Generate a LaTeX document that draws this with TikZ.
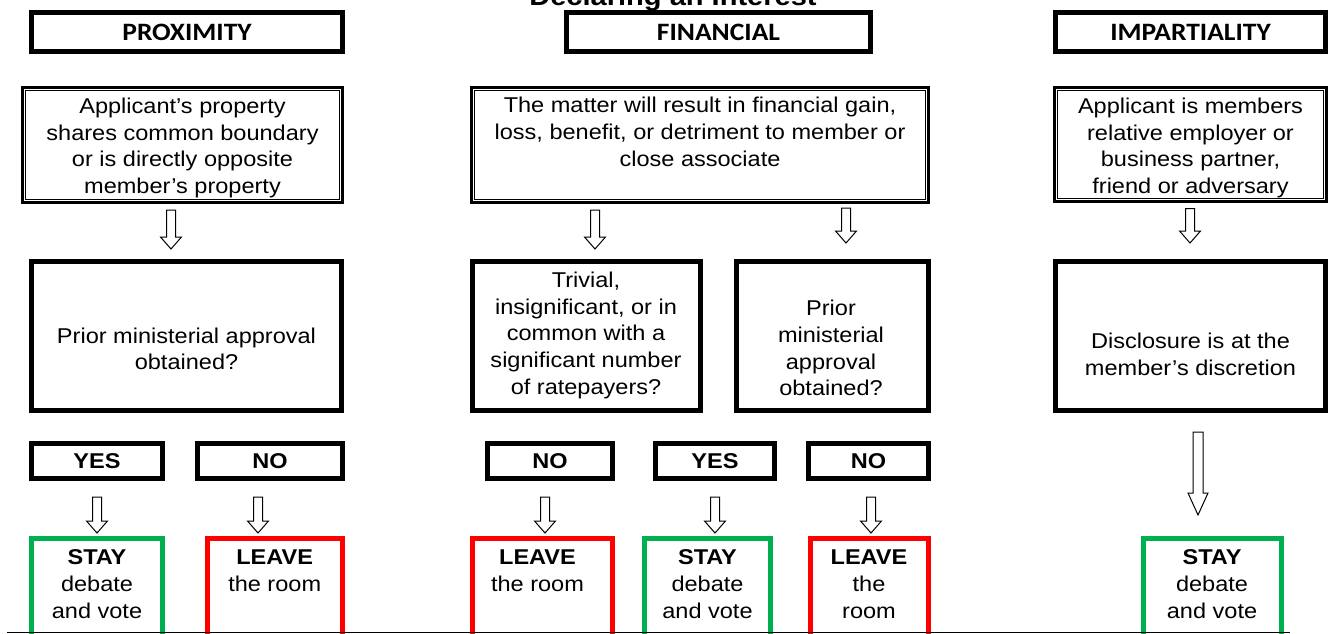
\documentclass[tikz,border=0pt]{standalone}
\usepackage{fontspec}
\usetikzlibrary{calc}
\newfontfamily\arialf[FakeStretch=1.1]{Liberation Sans}
\newfontfamily\calibf[FakeStretch=1.1]{Carlito}
\definecolor{stayc}{HTML}{00B050}
\definecolor{leavec}{HTML}{FF0000}
\tikzset{
 nb/.style={inner sep=0pt, outer sep=0pt},
 hdr/.style={nb, draw, line width=5pt, minimum height=39pt, font=\calibf\bfseries\fontsize{25}{30}\selectfont},
 dbox/.style={nb, draw, line width=3pt, minimum height=115pt,
   path picture={\draw[line width=1.2pt] ([xshift=3.3pt,yshift=-3.3pt]path picture bounding box.north west) rectangle ([xshift=-3.3pt,yshift=3.3pt]path picture bounding box.south east);}},
 qbox/.style={nb, draw, line width=5pt, minimum height=149pt},
 ynbox/.style={nb, draw, line width=5pt, minimum height=35pt, font=\arialf\bfseries\fontsize{21.4}{26}\selectfont},
 staybox/.style={nb, draw=stayc, line width=5pt, minimum height=119pt},
 leavebox/.style={nb, draw=leavec, line width=5pt, minimum height=119pt},
 txt/.style={nb, anchor=north, align=center, font=\arialf\fontsize{21.4}{26.8}\selectfont},
 blk/.style={draw, fill=white, line width=1pt, line join=miter},
}
\newcommand\blkarrow[5]{%
  \draw[blk] let \p1=#1, \p2=#2 in
    (\x1-#3,\y1) -- (\x1+#3,\y1) -- (\x1+#3,\y2+#5) -- (\x1+#4,\y2+#5) -- (\x1,\y2)
    -- (\x1-#4,\y2+#5) -- (\x1-#3,\y2+#5) -- cycle;}
\begin{document}
\begin{tikzpicture}[x=1pt,y=-1pt]
\useasboundingbox (0,0) rectangle (1330,633);
\clip (0,0) rectangle (1330,633);
\node[nb, anchor=base, font=\arialf\bfseries\fontsize{26.4}{30}\selectfont] (title) at (673,5) {Declaring an Interest};

% headers
\node[hdr, minimum width=311pt] (H1) at (187,32) {PROXIMITY};
\node[hdr, minimum width=304pt] (H2) at (718.5,32) {FINANCIAL};
\node[hdr, minimum width=270pt] (H3) at (1190.5,32) {IMPARTIALITY};

% double boxes
\node[dbox, minimum width=320pt] (D1) at (182.5,145) {};
\node[dbox, minimum width=457pt] (D2) at (700,145) {};
\node[dbox, minimum width=272pt, minimum height=114pt] (D3) at (1190.5,144.5) {};
\node[txt] (D1t) at (182.5,97.7) {Applicant’s property\\shares common boundary\\or is directly opposite\\member’s property};
\node[txt] (D2t) at (700,97) {The matter will result in financial gain,\\loss, benefit, or detriment to member or\\close associate};
\node[txt] (D3t) at (1190.5,97.7) {Applicant is members\\relative employer or\\business partner,\\friend or adversary};

% question boxes
\node[qbox, minimum width=310pt] (Q1) at (186.5,336) {};
\node[qbox, minimum width=228pt] (Q2) at (586.5,336) {};
\node[qbox, minimum width=192pt] (Q3) at (832.5,336) {};
\node[qbox, minimum width=270pt] (Q4) at (1190.5,336) {};
\node[txt] (Q1t) at (186.5,327.5) {Prior ministerial approval\\obtained?};
\node[txt] (Q2t) at (586,271.7) {Trivial,\\insignificant, or in\\common with a\\significant number\\of ratepayers?};
\node[txt] (Q3t) at (831,300) {Prior\\ministerial\\approval\\obtained?};
\node[txt] (Q4t) at (1190.5,333) {Disclosure is at the\\member’s discretion};

% yes / no
\node[ynbox, minimum width=131pt] (A1) at (97,461) {YES};
\node[ynbox, minimum width=145pt] (A2) at (270,461) {NO};
\node[ynbox, minimum width=125pt] (A3) at (550,461) {NO};
\node[ynbox, minimum width=119pt] (A4) at (715,461) {YES};
\node[ynbox, minimum width=120pt] (A5) at (868.5,461) {NO};

% outcome boxes
\node[staybox, minimum width=131pt] (B1) at (97,598) {};
\node[leavebox, minimum width=135pt] (B2) at (275,598) {};
\node[leavebox, minimum width=140pt] (B3) at (542.5,598) {};
\node[staybox, minimum width=126pt] (B4) at (707.5,598) {};
\node[leavebox, minimum width=118pt] (B5) at (869.5,598) {};
\node[staybox, minimum width=138pt] (B6) at (1212.5,598) {};
\node[txt] (B1t) at (97,549.7) {\textbf{STAY}\\debate\\and vote};
\node[txt] (B2t) at (274.7,549.7) {\textbf{LEAVE}\\the room};
\node[txt] (B3t) at (537.5,549.7) {\textbf{LEAVE}\\the room};
\node[txt] (B4t) at (707.5,549.7) {\textbf{STAY}\\debate\\and vote};
\node[txt] (B5t) at (869,549.7) {\textbf{LEAVE}\\the\\room};
\node[txt] (B6t) at (1212,549.7) {\textbf{STAY}\\debate\\and vote};

% block arrows
\blkarrow{($(171,0 |- D1.south)+(0,7.5)$)}{($(171,0 |- Q1.north)+(0,-12.5)$)}{4.5pt}{10.5pt}{12pt}
\blkarrow{($(595,0 |- D2.south)+(0,7.5)$)}{($(595,0 |- Q2.north)+(0,-12.5)$)}{4.5pt}{10.5pt}{12pt}
\blkarrow{($(846,0 |- D2.south)+(0,5.5)$)}{($(846,0 |- Q3.north)+(0,-18.5)$)}{4.5pt}{10.5pt}{12pt}
\blkarrow{($(1190,0 |- D3.south)+(0,7)$)}{($(1190,0 |- Q4.north)+(0,-18.5)$)}{4.5pt}{10.5pt}{12pt}
\blkarrow{($(1198,0 |- Q4.south)+(0,21.5)$)}{($(1198,0 |- B6.north)+(0,-23.5)$)}{5pt}{10pt}{22pt}
\blkarrow{($(97,0 |- A1.south)+(0,18.5)$)}{($(97,0 |- B1.north)+(0,-5.5)$)}{4.5pt}{10.5pt}{12pt}
\blkarrow{($(258,0 |- A2.south)+(0,18.5)$)}{($(258,0 |- B2.north)+(0,-5.5)$)}{4.5pt}{10.5pt}{12pt}
\blkarrow{($(545,0 |- A3.south)+(0,18.5)$)}{($(545,0 |- B3.north)+(0,-5.5)$)}{4.5pt}{10.5pt}{12pt}
\blkarrow{($(715,0 |- A4.south)+(0,18.5)$)}{($(715,0 |- B4.north)+(0,-5.5)$)}{4.5pt}{10.5pt}{12pt}
\blkarrow{($(871,0 |- A5.south)+(0,18.5)$)}{($(871,0 |- B5.north)+(0,-5.5)$)}{4.5pt}{10.5pt}{12pt}

\draw[line width=1pt] (7,632) -- (1290,632);
\end{tikzpicture}
\end{document}
